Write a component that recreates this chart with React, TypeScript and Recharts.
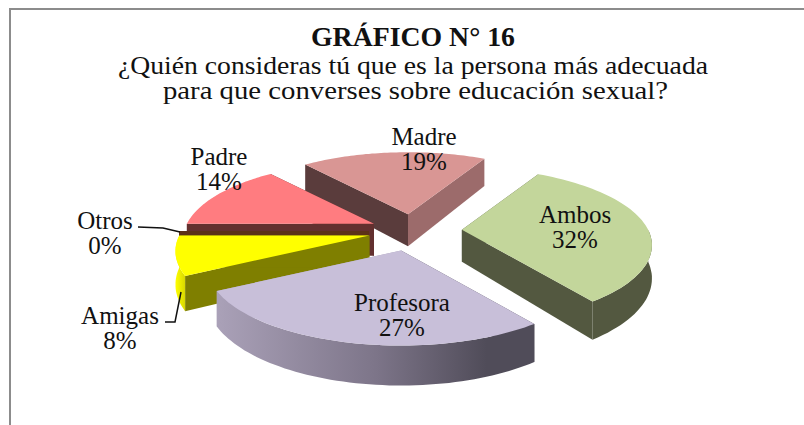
import React from "react";
import { PieChart, Pie } from "recharts";

const categories = ["Ambos", "Madre", "Padre", "Otros", "Amigas", "Profesora"];
const values = [32, 19, 14, 0, 8, 27];
const titleLines = ["GRÁFICO N° 16", "¿Quién consideras tú que es la persona más adecuada", "para que converses sobre educación sexual?"];

const topColors: Record<string, string> = { Ambos: "#c3d69b", Madre: "#d99694", Padre: "#ff7c80", Otros: "#5c3a1a", Amigas: "#ffff00", Profesora: "#c8bfd9" };
// wall colour on the side of the slice's first angle / last angle
const startWall: Record<string, string> = { Ambos: "#535840", Madre: "#9c6b6b", Padre: "#63302f", Otros: "#5c3218", Amigas: "#7f7f00", Profesora: "#aaa1b8" };
const endWall: Record<string, string> = { Ambos: "#535840", Madre: "#5a3c3c", Padre: "#63302f", Otros: "#5c3218", Amigas: "#7f7f00", Profesora: "#4f4b58" };
const explode: Record<string, number> = { Ambos: 50, Madre: 42, Padre: 42, Otros: 43, Amigas: 44, Profesora: 50 };
const shrink: Record<string, number> = { Ambos: 0.98, Madre: 0.98, Padre: 0.985, Otros: 1, Amigas: 1, Profesora: 1 };

const data = categories.map((name, i) => ({ name, value: values[i] }));

const TILT = 0.4;
const PERSPECTIVE = 0.2;
const DEPTH = 32;
const RAD = Math.PI / 180;

const project = (props: any, angle: number, radius: number, down: boolean) => {
  const r = props.outerRadius * shrink[props.name];
  const u = Math.cos(angle * RAD) * (radius / props.outerRadius);
  const v = Math.sin(angle * RAD) * (radius / props.outerRadius);
  const d = 1 + PERSPECTIVE * v;
  const mid = (props.startAngle + props.endAngle) / 2;
  const e = explode[props.name];
  const x = props.cx + e * Math.cos(mid * RAD) + (r * u) / d;
  const y = props.cy - e * Math.sin(mid * RAD) * TILT - (r * TILT * v) / d + (down ? DEPTH / d : 0);
  return [x, y];
};

const toPath = (pts: number[][]) => "M" + pts.map((p) => p[0].toFixed(1) + " " + p[1].toFixed(1)).join("L") + "Z";

const SliceShape = (props: any) => {
  const { name, startAngle, endAngle, outerRadius } = props;
  const arc: number[] = [];
  for (let i = 0; i <= 60; i++) arc.push(startAngle + ((endAngle - startAngle) * i) / 60);
  const rimTop = arc.map((a) => project(props, a, outerRadius, false));
  const apexTop = project(props, startAngle, 0, false);
  const apexLow = project(props, startAngle, 0, true);
  const first = arc[0];
  const last = arc[60];
  const firstLow = project(props, first, outerRadius, true);
  const lastLow = project(props, last, outerRadius, true);
  // only the part of the rim that faces the viewer gets an outer wall
  const front = arc.filter((a) => Math.sin(a * RAD) < 0);
  const frontTop = front.map((a) => project(props, a, outerRadius, false));
  const frontLow = front.map((a) => project(props, a, outerRadius, true));
  const gradId = "wall-" + name;
  const isProf = name === "Profesora";
  return (
    <g>
      {isProf && (
        <defs>
          <linearGradient id={gradId} x1="0" y1="0" x2="1" y2="0">
            <stop offset="0" stopColor="#aaa1b8" />
            <stop offset="0.5" stopColor="#7d7589" />
            <stop offset="0.85" stopColor="#504c59" />
            <stop offset="1" stopColor="#504c59" />
          </linearGradient>
        </defs>
      )}
      {name === "Amigas" && (
        <defs>
          <linearGradient id={gradId} x1="0" y1="0" x2="1" y2="0">
            <stop offset="0" stopColor="#ffff00" />
            <stop offset="1" stopColor="#d8d800" />
          </linearGradient>
        </defs>
      )}
      <path d={toPath([apexTop, rimTop[60], lastLow, apexLow])} fill={endWall[name]} />
      <path d={toPath([apexTop, rimTop[0], firstLow, apexLow])} fill={startWall[name]} />
      {front.length > 1 && (
        <path
          d={toPath([...frontTop, ...frontLow.slice().reverse()])}
          fill={isProf || name === "Amigas" ? `url(#${gradId})` : endWall[name]}
        />
      )}
      <path d={toPath([apexTop, ...rimTop])} fill={topColors[name]} />
    </g>
  );
};

const labelPlace: Record<string, number[]> = {
  Ambos: [575, 223],
  Madre: [424, 145],
  Padre: [219, 165],
  Otros: [105, 229],
  Amigas: [120, 324],
  Profesora: [402, 311],
};

const SliceLabel = (props: any) => {
  const [x, y] = labelPlace[props.name];
  return (
    <g>
      <text x={x} y={y} textAnchor="middle" fontFamily="Liberation Serif" fontSize={25} fill="#111">
        <tspan x={x}>{props.name}</tspan>
        <tspan x={x} dy={25}>{props.value}%</tspan>
      </text>
      {props.name === "Otros" && <polyline points="138,227 163,228 180,232" fill="none" stroke="#111" strokeWidth={1.5} />}
      {props.name === "Amigas" && <polyline points="165,322 175,322 181,292" fill="none" stroke="#111" strokeWidth={1.5} />}
    </g>
  );
};

export default function App() {
  return (
    <div style={{ position: "absolute", left: 0, top: 0, width: 804, height: 425, overflow: "hidden", background: "#fff" }}>
      <div style={{ position: "absolute", left: 9, top: 8, width: 795, height: 417, borderLeft: "2px solid #8c8c8c", borderTop: "2px solid #8c8c8c" }} />
      <div style={{ position: "absolute", left: 0, top: 0 }}>
        <PieChart width={804} height={425} margin={{ top: 0, right: 0, bottom: 0, left: 0 }}>
          <text x={413} y={46} textAnchor="middle" fontFamily="Liberation Serif" fontWeight="bold" fontSize={27} textLength={204} lengthAdjust="spacingAndGlyphs" fill="#111">{titleLines[0]}</text>
          <text x={413} y={74} textAnchor="middle" fontFamily="Liberation Serif" fontSize={25} textLength={590} lengthAdjust="spacingAndGlyphs" fill="#111">{titleLines[1]}</text>
          <text x={415.5} y={99} textAnchor="middle" fontFamily="Liberation Serif" fontSize={25} textLength={505} lengthAdjust="spacingAndGlyphs" fill="#111">{titleLines[2]}</text>
          <Pie
            data={data}
            dataKey="value"
            nameKey="name"
            cx={412}
            cy={231}
            innerRadius={0}
            outerRadius={190}
            startAngle={-54}
            endAngle={306}
            stroke="none"
            shape={SliceShape}
            label={SliceLabel}
            labelLine={false}
            isAnimationActive={false}
          />
        </PieChart>
      </div>
    </div>
  );
}
